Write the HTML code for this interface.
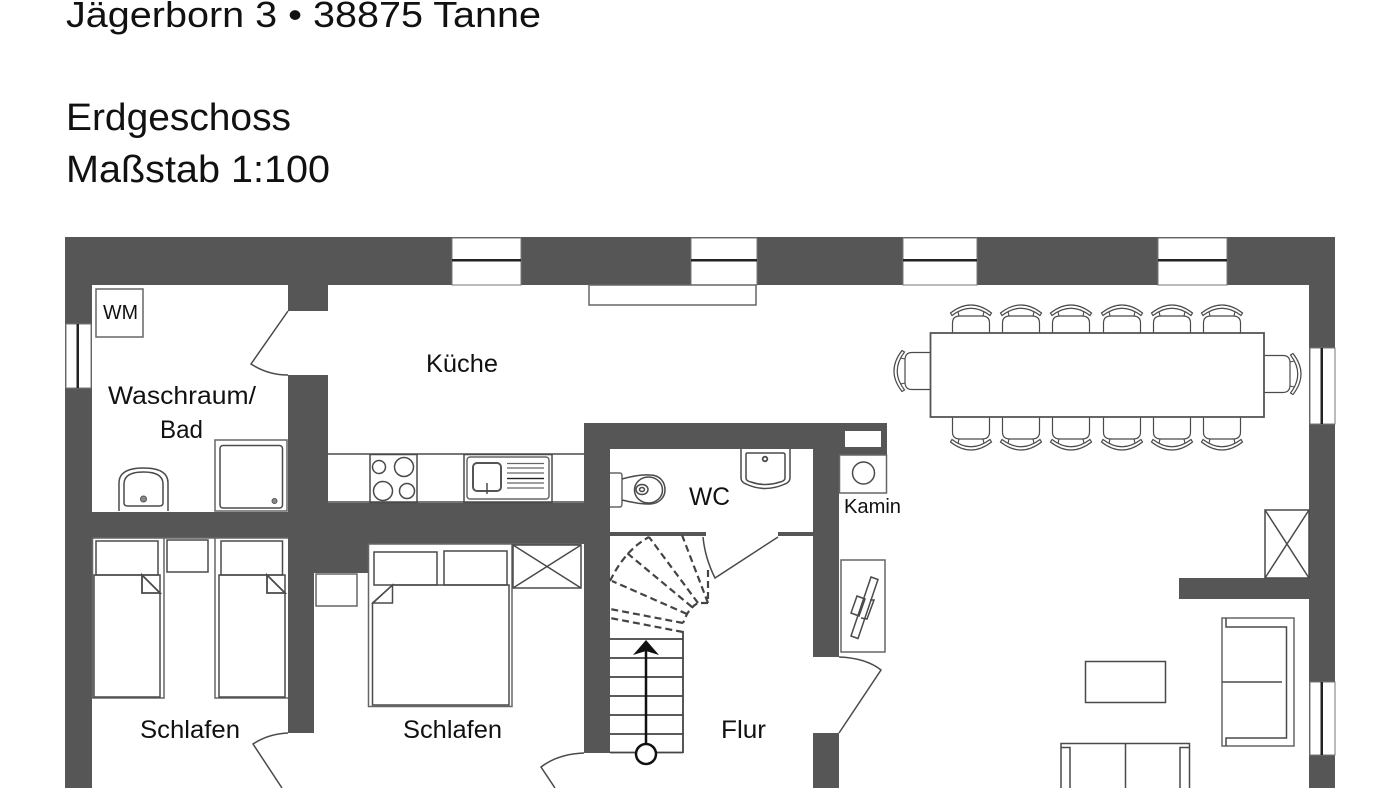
<!DOCTYPE html>
<html><head><meta charset="utf-8"><style>
html,body{margin:0;padding:0;background:#fff;width:1400px;height:788px;overflow:hidden}
svg{display:block}
text{font-family:"Liberation Sans",sans-serif;fill:#111}
.w{fill:#565656}
.l{fill:none;stroke:#4a4a4a;stroke-width:1.5}
.g{fill:none;stroke:#666;stroke-width:1.5}
.wf{fill:#fff;stroke:#777;stroke-width:1}
.d{fill:none;stroke:#444;stroke-width:2.2;stroke-dasharray:7 4}
</style></head><body>
<svg width="1400" height="788" viewBox="0 0 1400 788" xmlns="http://www.w3.org/2000/svg">
<defs>
<g id="chair">
<path class="l" style="stroke-width:1.2" d="M-18.500 30V9Q-18.500 2 -11 2H11Q18.500 2 18.500 9V30"/>
<path style="fill:#fff;stroke:#4a4a4a;stroke-width:1.2" d="M-20.500 -1Q0 -17 20.500 -1L19 1.500Q0 -13 -19 1.500Z"/>
<path class="l" style="stroke-width:1.100" d="M-13 -2.500L-12 2M13 -2.500L12 2"/>
</g>
</defs>

<text x="66" y="27" font-size="36" textLength="475" lengthAdjust="spacingAndGlyphs">Jägerborn 3 • 38875 Tanne</text>
<text x="66" y="130" font-size="38" textLength="225" lengthAdjust="spacingAndGlyphs">Erdgeschoss</text>
<text x="66" y="182" font-size="38" textLength="264" lengthAdjust="spacingAndGlyphs">Maßstab 1:100</text>

<!-- walls -->
<rect class="w" x="65" y="237" width="1270" height="48"/>
<rect class="w" x="65" y="237" width="27" height="551"/>
<rect class="w" x="1309" y="237" width="26" height="551"/>
<rect class="w" x="288" y="285" width="40" height="26"/>
<rect class="w" x="288" y="375" width="40" height="163"/>
<rect class="w" x="92" y="512" width="492" height="26"/>
<rect class="w" x="288" y="503" width="296" height="41"/>
<rect class="w" x="288" y="538" width="26" height="195"/>
<rect class="w" x="314" y="538" width="54" height="35"/>
<rect class="w" x="584" y="423" width="26" height="330"/>
<rect class="w" x="584" y="423" width="303" height="26"/>
<rect class="w" x="813" y="423" width="74" height="32"/>
<rect class="w" x="813" y="423" width="26" height="234"/>
<rect class="w" x="813" y="733" width="26" height="55"/>
<rect class="w" x="610" y="532" width="96" height="4"/>
<rect class="w" x="778" y="532" width="35" height="4"/>
<rect class="w" x="1179" y="578" width="130" height="21"/>

<!-- windows -->
<g>
<rect class="wf" x="452" y="238" width="69" height="47"/><rect x="452" y="259" width="69" height="2.500" fill="#222"/>
<rect class="wf" x="691" y="238" width="66" height="47"/><rect x="691" y="259" width="66" height="2.500" fill="#222"/>
<rect class="wf" x="903" y="238" width="74" height="47"/><rect x="903" y="259" width="74" height="2.500" fill="#222"/>
<rect class="wf" x="1158" y="238" width="69" height="47"/><rect x="1158" y="259" width="69" height="2.500" fill="#222"/>
<rect class="wf" x="66" y="324" width="25" height="64"/><rect x="76.500" y="324" width="2.500" height="64" fill="#222"/>
<rect class="wf" x="1310" y="348" width="25" height="76"/><rect x="1320.500" y="348" width="2.500" height="76" fill="#222"/>
<rect class="wf" x="1310" y="682" width="25" height="73"/><rect x="1320.500" y="682" width="2.500" height="73" fill="#222"/>
<rect x="845" y="431" width="36" height="16" fill="#fff"/>
</g>

<!-- kitchen shelf and counter -->
<rect class="g" x="589" y="285" width="167" height="20"/>
<path class="l" d="M328 454H584M328 502H584"/>
<rect class="l" x="370" y="454.500" width="47" height="48"/>
<circle class="l" cx="379" cy="467" r="6.500"/><circle class="l" cx="404" cy="467" r="9.500"/>
<circle class="l" cx="383" cy="491" r="9.500"/><circle class="l" cx="407" cy="491" r="7.500"/>
<rect class="l" x="464" y="454.500" width="88" height="48"/>
<rect class="g" x="467" y="457" width="82" height="42" rx="3"/>
<rect x="473" y="463" width="28" height="28" rx="4" fill="none" stroke="#555" stroke-width="2"/>
<path class="l" d="M487 483V494"/>
<path fill="none" stroke="#666" stroke-width="1.300" d="M507 463.500H544M507 468H544M507 473H544M507 478.500H544M507 483H544M507 488H544"/><path stroke="#222" stroke-width="1.300" d="M507 478.500H544"/>

<!-- bathroom -->
<rect class="g" x="96" y="289" width="47" height="48"/>
<path class="l" d="M288 311L251 364Q268 375 288 375"/>
<rect class="g" x="215" y="440" width="72" height="71" />
<rect class="l" x="220" y="445.500" width="62.500" height="62.500" rx="3"/>
<circle cx="274.500" cy="501" r="2.500" fill="#888" stroke="#555"/>
<path class="l" d="M119 511V483Q119 468 143.500 468Q168 468 168 483V511"/>
<path class="l" d="M124 503V484Q124 472 143.500 472Q163 472 163 484V503Q163 506 159 506H128Q124 506 124 503Z"/>
<circle cx="143.500" cy="499" r="3" fill="#888" stroke="#555"/>

<!-- bedroom 1 -->
<path class="g" d="M92.500 538H288M92.500 538V698H164V538M215 538V698H288"/>
<rect class="l" x="96" y="541" width="62" height="34"/>
<rect class="l" x="221" y="541" width="61.500" height="34"/>
<rect fill="#fff" class="l" x="94" y="575" width="66" height="122"/>
<rect fill="#fff" class="l" x="219" y="575" width="66" height="122"/>
<path class="l" d="M142 575V593H160ZM267 575V593H285Z" style="stroke-width:1.800"/>
<rect class="l" x="167" y="540" width="41" height="32"/>
<path class="l" d="M288 733Q268 734 253 744L282 788"/>

<!-- bedroom 2 -->
<rect class="g" x="316" y="574" width="41" height="32"/>
<path class="g" d="M368.500 544H581M368.500 544V706.500H512V544"/>
<rect class="l" x="374" y="552" width="63" height="33"/>
<rect class="l" x="444" y="551" width="63" height="34"/>
<path class="l" fill="#fff" d="M392.500 585H509V705H372.500V603Z"/>
<path class="l" d="M392.500 585V603H373Z"/>
<rect class="l" x="513" y="545" width="68" height="43"/>
<path class="l" d="M513 545L581 588M581 545L513 588"/>
<path class="l" d="M584 753Q558 754 541 767L555 788"/>

<!-- WC -->
<path class="g" d="M610 473H620Q622 473 622 476V503Q622 507 620 507H610"/>
<path class="l" d="M622 479Q640 474 650 475C660 475 665 482 665 490C665 498 658 504 650 504Q638 504 622 500"/>
<ellipse class="l" cx="648.500" cy="490" rx="14" ry="13"/>
<ellipse class="l" cx="642" cy="489.500" rx="6" ry="5"/>
<ellipse class="l" cx="642" cy="489.500" rx="2.500" ry="2"/>
<path class="l" d="M741 449V478Q741 482 746 484Q765 493 785 484Q790 482 790 478V449"/>
<path class="l" d="M747 453H783Q785 453 785 455V478Q785 481 780 482Q765 487 751 482Q746 481 746 478V455Q746 453 747 453Z"/>
<circle class="l" cx="765" cy="459" r="2.300" style="stroke-width:1.800"/>
<path class="l" d="M778 537L715 578Q705 558 703 537"/>

<!-- stairs -->
<path class="d" d="M683 632L610 618M683 623L610 609M687 614L612 581M692 607L627 553M698 603L649 537M708 603L682 535M708 570V603L698 603Q692 606 687 614L683 623"/>
<path class="d" d="M610 581Q625 550 649 537"/>
<path fill="none" stroke="#444" stroke-width="1.800" d="M610 639H683M610 658H683M610 677H683M610 696H683M610 715H683M610 734H683M610 752.500H683M683 631V753"/>
<path stroke="#111" stroke-width="2.500" d="M646 744V650"/>
<path fill="#111" d="M646 640L659 655L646 651L633 655Z"/>
<circle cx="646" cy="754" r="10" fill="#fff" stroke="#111" stroke-width="2.500"/>

<!-- kamin -->
<rect class="g" x="839.500" y="455" width="47" height="38"/>
<circle class="l" cx="863.500" cy="473" r="11"/>
<rect class="g" x="841" y="560" width="44" height="92"/>
<path class="l" d="M871 577L878 579.500L858 638.500L851 636Z"/>
<path class="l" d="M857 596L865 599L859 616L851 613ZM870 600L874 600L867 619L861 618"/>

<!-- front door -->
<path class="l" d="M839 657Q866 658 881 670L839 733"/>

<!-- dining table -->
<use href="#chair" x="971" y="314"/><use href="#chair" x="1021" y="314"/><use href="#chair" x="1071" y="314"/><use href="#chair" x="1122" y="314"/><use href="#chair" x="1172" y="314"/><use href="#chair" x="1222" y="314"/>
<use href="#chair" transform="translate(971 441) scale(1 -1)"/><use href="#chair" transform="translate(1021 441) scale(1 -1)"/><use href="#chair" transform="translate(1071 441) scale(1 -1)"/><use href="#chair" transform="translate(1122 441) scale(1 -1)"/><use href="#chair" transform="translate(1172 441) scale(1 -1)"/><use href="#chair" transform="translate(1222 441) scale(1 -1)"/>
<use href="#chair" transform="translate(903 371) rotate(-90) scale(1 1)"/>
<use href="#chair" transform="translate(1292 374) rotate(90)"/>
<rect x="930.500" y="333" width="333.500" height="84" fill="#fff" stroke="#555" stroke-width="1.800"/>

<!-- living -->
<rect class="l" x="1265" y="510" width="44" height="68"/>
<path class="l" d="M1265 510L1309 578M1309 510L1265 578"/>
<rect class="g" x="1222" y="618" width="72" height="128"/>
<path class="l" d="M1226 618V627H1286.500V738H1226V746M1222 682H1282"/>
<rect class="l" x="1085.500" y="661.500" width="80" height="41"/>
<path class="l" d="M1061 788V743.500H1189.500V788M1125.500 744V788M1061 747.500H1070V788M1189 747.500H1180V788"/>

<!-- labels -->
<text x="103" y="319" font-size="20" textLength="35" lengthAdjust="spacingAndGlyphs">WM</text>
<text x="426" y="372" font-size="25" textLength="72" lengthAdjust="spacingAndGlyphs">Küche</text>
<text x="108" y="404" font-size="25" textLength="148" lengthAdjust="spacingAndGlyphs">Waschraum/</text>
<text x="160" y="438" font-size="25" textLength="43" lengthAdjust="spacingAndGlyphs">Bad</text>
<text x="140" y="738" font-size="25" textLength="100" lengthAdjust="spacingAndGlyphs">Schlafen</text>
<text x="403" y="738" font-size="25" textLength="99" lengthAdjust="spacingAndGlyphs">Schlafen</text>
<text x="689" y="505" font-size="25" textLength="41" lengthAdjust="spacingAndGlyphs">WC</text>
<text x="721" y="738" font-size="25" textLength="45" lengthAdjust="spacingAndGlyphs">Flur</text>
<text x="844" y="513" font-size="20" textLength="57" lengthAdjust="spacingAndGlyphs">Kamin</text>
</svg>
</body></html>
